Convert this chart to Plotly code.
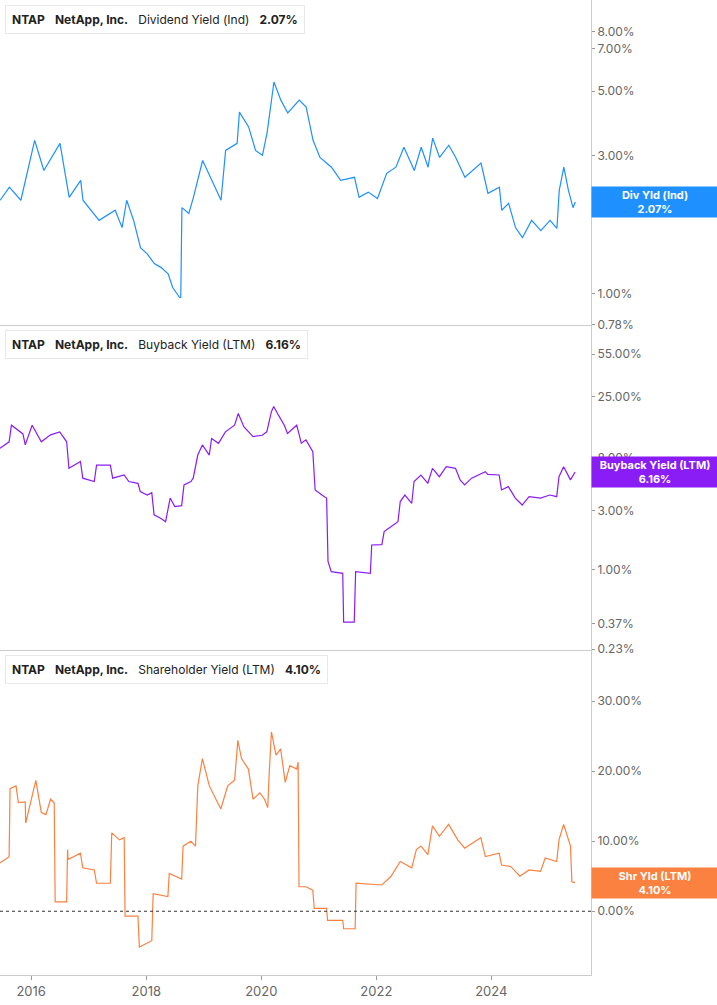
import plotly.graph_objects as go
import pandas as pd
import numpy as np

def to_dates(yrs):
    return [pd.Timestamp("2015-01-01") + pd.Timedelta(days=(y - 2015) * 365.25) for y in yrs]

div_x = [2015.46,2015.62,2015.82,2016.06,2016.22,2016.50,2016.66,2016.86,2016.90,2017.18,2017.46,2017.58,2017.66,2017.78,2017.90,2018.02,2018.14,2018.26,2018.38,2018.46,2018.58,2018.60,2018.62,2018.74,2018.82,2018.98,2019.14,2019.30,2019.38,2019.58,2019.62,2019.78,2019.90,2020.02,2020.10,2020.18,2020.22,2020.34,2020.46,2020.66,2020.78,2020.90,2021.02,2021.22,2021.38,2021.62,2021.70,2021.86,2022.02,2022.18,2022.34,2022.48,2022.66,2022.78,2022.90,2022.98,2023.10,2023.26,2023.38,2023.54,2023.82,2023.94,2024.14,2024.18,2024.30,2024.42,2024.54,2024.70,2024.86,2025.02,2025.14,2025.18,2025.26,2025.34,2025.42,2025.46]
div_y = [2.1,2.33,2.1,3.38,2.66,3.3,2.15,2.46,2.1,1.79,1.94,1.69,2.1,1.79,1.44,1.37,1.27,1.23,1.17,1.05,0.97,0.97,1.98,1.89,2.15,2.88,2.46,2.1,3.12,3.3,4.23,3.76,3.12,3.0,3.58,4.65,5.37,4.65,4.2,4.65,4.4,3.38,2.95,2.73,2.46,2.52,2.15,2.24,2.13,2.6,2.73,3.2,2.66,3.2,2.73,3.44,2.95,3.25,2.95,2.52,2.82,2.22,2.33,1.94,2.05,1.69,1.56,1.79,1.65,1.79,1.68,2.27,2.73,2.27,1.98,2.07]

bb_zx = [0,20,25,50,55,70,90,110,130,145,150,175,180,205,210,240,245,270,280,300,305,320,330,335,350,360,370,380,395,400,415,420,430,440,455,460,475,490,510,518,530,550,570,580,590,595,605,618,625,645,655,665,680,685,705,710,713,720,745,747,770,773,805,808,830,835,845,865,870,880,895,900,915,930,940,955,970,990,1000,1010,1025,1055,1060,1085,1090,1105,1120,1135,1150,1175,1195,1210,1215,1225,1240,1250]
bb_y = [9.57,10.8,14.7,12.5,10.2,14.7,10.8,12.3,13.0,10.8,6.6,7.5,5.5,5.17,7.0,7.0,5.5,5.83,5.17,5.0,4.28,4.02,4.2,2.78,2.6,2.45,3.8,3.24,3.3,4.85,5.17,5.5,8.45,10.2,8.45,11.5,10.5,13.0,14.7,18.3,14.3,11.9,12.2,13.0,18.9,20.8,17.8,14.7,12.6,14.7,10.5,11.2,9.0,4.42,3.9,3.8,1.17,0.97,0.94,0.38,0.38,0.97,0.94,1.59,1.6,2.04,2.17,2.45,3.56,4.02,3.45,5.17,5.83,5.0,6.6,5.65,6.8,6.6,5.33,4.85,5.5,6.2,5.9,5.83,4.42,4.7,3.8,3.34,3.9,3.8,4.02,3.9,5.65,6.8,5.33,6.16]

sh_zx = [0,20,22,35,40,55,56,65,78,90,100,110,118,120,145,147,148,175,180,205,210,240,243,260,270,272,300,303,330,333,365,368,395,398,415,425,430,440,455,480,495,510,517,525,540,550,565,575,582,585,590,600,610,620,630,645,648,650,665,680,683,710,712,745,747,772,774,830,850,870,895,905,915,930,940,955,975,995,1010,1045,1055,1085,1090,1110,1130,1150,1175,1185,1210,1215,1225,1240,1243,1250]
sh_y = [6.9,7.8,17.5,17.9,15.5,15.6,12.6,15.0,18.7,14.1,13.8,16.0,15.5,1.35,1.35,8.8,7.4,8.3,6.2,5.9,4.0,4.0,11.2,10.2,10.5,-0.7,-0.7,-5.1,-4.2,2.5,2.1,5.4,4.6,9.3,10.0,9.3,17.9,21.8,17.9,14.6,17.9,18.7,24.4,21.8,20.3,16.0,16.9,16.0,14.8,19.4,25.6,22.3,23.2,18.4,20.8,20.3,21.3,3.5,3.5,3.0,0.4,0.4,-1.3,-1.3,-2.5,-2.5,4.0,3.75,5.0,7.1,6.2,8.8,9.3,8.1,12.2,10.7,12.4,10.2,9.0,10.5,7.8,8.3,6.6,6.4,5.0,5.9,5.7,7.6,7.1,10.2,12.4,9.3,4.2,4.1]

bb_x = [round(2016 + (z - 68) / 125, 3) for z in bb_zx]
sh_x = [round(2016 + (z - 68) / 125, 3) for z in sh_zx]

C1, C2, C3 = "#1e90ff", "#8a1cf5", "#fb8140"
font = "Inter, Roboto, sans-serif"
GRAY = "#666666"

fig = go.Figure()
fig.add_trace(go.Scatter(x=to_dates(div_x), y=div_y, mode="lines", line=dict(color=C1, width=1.2), xaxis="x", yaxis="y"))
fig.add_trace(go.Scatter(x=to_dates(bb_x), y=bb_y, mode="lines", line=dict(color=C2, width=1.2), xaxis="x2", yaxis="y2"))
fig.add_trace(go.Scatter(x=to_dates(sh_x), y=sh_y, mode="lines", line=dict(color=C3, width=1.2), xaxis="x3", yaxis="y3"))

xr = [pd.Timestamp("2015-06-17"), pd.Timestamp("2025-09-25")]
xcommon = dict(range=xr, showgrid=False, showline=True, linecolor="#cccccc", zeroline=False)
ycommon = dict(side="right", showgrid=False, showline=True, linecolor="#cccccc", ticks="outside",
               ticklen=3, tickcolor="#999999", tickfont=dict(size=12, color=GRAY, family=font), zeroline=False)

def fmt(v): return [f"{t:.2f}%" for t in v]
t1 = [0.78, 1, 2, 3, 5, 7, 8]
t2 = [0.23, 0.37, 1, 3, 8, 25, 55]
t3 = [0, 10, 20, 30]

fig.update_layout(
    width=717, height=1005, margin=dict(l=0, r=126, t=0, b=30),
    paper_bgcolor="white", plot_bgcolor="white", showlegend=False,
    font=dict(family=font),
    xaxis=dict(**xcommon, domain=[0, 1], anchor="y", showticklabels=False),
    xaxis2=dict(**xcommon, domain=[0, 1], anchor="y2", showticklabels=False, matches="x"),
    xaxis3=dict(**xcommon, domain=[0, 1], anchor="y3", matches="x", ticks="outside", ticklen=4, tickcolor="#999999",
                tickvals=[pd.Timestamp(f"{y}-01-01") for y in [2016, 2018, 2020, 2022, 2024]],
                ticktext=["2016", "2018", "2020", "2022", "2024"],
                tickfont=dict(size=13, color=GRAY, family=font)),
    yaxis=dict(**ycommon, type="log", domain=[0.6667, 1], anchor="x", range=[np.log10(0.78), np.log10(10.3)],
               tickvals=t1, ticktext=fmt(t1)),
    yaxis2=dict(**ycommon, type="log", domain=[0.3333, 0.6667], anchor="x2", range=[np.log10(0.226), np.log10(94.6)],
                tickvals=t2, ticktext=fmt(t2)),
    yaxis3=dict(**ycommon, domain=[0, 0.3333], anchor="x3", range=[-9.1, 37.3],
                tickvals=t3, ticktext=fmt(t3)),
)

fig.add_shape(type="line", xref="x3 domain", yref="y3", x0=0, x1=1, y0=0, y1=0,
              line=dict(color="#333333", width=1, dash="dot"))

titles = [("<b>NTAP</b>   <b>NetApp, Inc.</b>   Dividend Yield (Ind)   <b>2.07%</b>", C1, 1.0),
          ("<b>NTAP</b>   <b>NetApp, Inc.</b>   Buyback Yield (LTM)   <b>6.16%</b>", C2, 0.6667),
          ("<b>NTAP</b>   <b>NetApp, Inc.</b>   Shareholder Yield (LTM)   <b>4.10%</b>", C3, 0.3333)]
H = 975
for txt, col, top in titles:
    ytop = top - 5 / H
    fig.add_annotation(xref="paper", yref="paper", x=5 / 591, y=ytop, xanchor="left", yanchor="top",
                       text=txt, showarrow=False, font=dict(size=12, color="#222222", family=font),
                       bgcolor="white", bordercolor="#e8e8e8", borderwidth=1, borderpad=6, height=15)
    fig.add_shape(type="rect", xref="paper", yref="paper", x0=5 / 591, x1=8 / 591, y0=ytop - 27 / H, y1=ytop,
                  fillcolor=col, line=dict(width=0))

labels = [("Div Yld (Ind)", "2.07%", C1, "y", 2.07),
          ("Buyback Yield (LTM)", "6.16%", C2, "y2", 6.16),
          ("Shr Yld (LTM)", "4.10%", C3, "y3", 4.10)]
for a, b, col, yref, v in labels:
    yv = np.log10(v) if yref != "y3" else v
    fig.add_annotation(xref="paper", yref=yref, x=1, y=yv, xanchor="left", yanchor="middle",
                       text=f"<b>{a}</b><br><b>{b}</b>", showarrow=False, width=122, height=26,
                       bgcolor=col, font=dict(size=11, color="white", family=font), borderpad=2)

fig.write_html("out.html", config={"displayModeBar": False},
               post_script="document.body.style.margin='0';document.body.style.overflow='hidden';")
